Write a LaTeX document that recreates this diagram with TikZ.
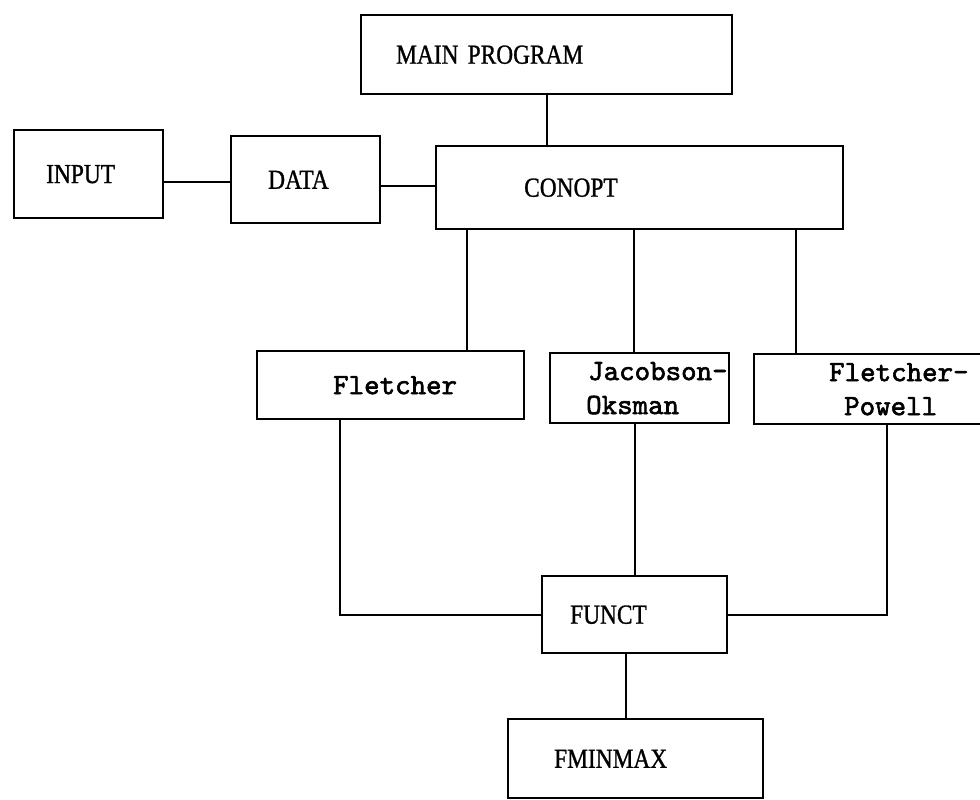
\documentclass[tikz,border=0pt]{standalone}
\usepackage{fontspec}
\newfontfamily\capsfont[FakeStretch=0.85,FakeBold=1]{Liberation Serif}
\newfontfamily\typefont[FakeBold=2]{lmmono10-regular.otf}
\begin{document}
\begin{tikzpicture}[x=1pt,y=-1pt,line width=2.4pt,
    box/.style={draw,anchor=north west,inner xsep=0pt,inner ysep=0pt,align=left},
    capbox/.style={box,font=\capsfont\fontsize{27.5}{32}\selectfont},
    monobox/.style={box,font=\typefont\fontsize{29.5}{34}\selectfont}]
    \useasboundingbox (0,0) rectangle (980,800);
    % boxes
    \node[capbox,text width=371pt,minimum height=79pt](main) at (360,14) {\hspace*{35pt}MAIN PROGRAM};
    \node[capbox,text width=149pt,minimum height=88pt](input) at (13,129) {\hspace*{32pt}INPUT};
    \node[capbox,text width=149pt,minimum height=87pt](data) at (230,135) {\hspace*{37pt}DATA};
    \node[capbox,text width=407pt,minimum height=83pt](conopt) at (435,145) {\hspace*{88pt}CONOPT};
    \node[monobox,text width=267pt,minimum height=68pt](fletcher) at (256,350) {\hspace*{76pt}Fletcher};
    \node[monobox,text width=179pt,minimum height=70pt](jacobson) at (549,352) {\hspace*{38pt}Jacobson-\\\hspace*{36pt}Oksman};
    \node[monobox,text width=250pt,minimum height=70pt](powell) at (753,353) {\hspace*{75pt}Fletcher-\\\hspace*{90pt}Powell};
    \node[capbox,text width=185pt,minimum height=77pt](funct) at (541,575) {\hspace*{28pt}FUNCT};
    \node[capbox,text width=255pt,minimum height=79pt](fminmax) at (507,718) {\hspace*{46pt}FMINMAX};
    % connectors
    \draw (main.south) -- (main.south |- conopt.north);
    \draw (input.east |- 0,182) -- (data.west |- 0,182);
    \draw (data.east |- 0,186) -- (conopt.west |- 0,186);
    \foreach \x/\n in {467/fletcher,634/jacobson,796/powell}
    {
        \draw (conopt.south -| \x,0) -- (\n.north -| \x,0);
    }
    \draw (fletcher.south -| 340,0) |- (funct.west);
    \draw (funct.north) -- (funct.north |- jacobson.south);
    \draw (powell.south -| 887,0) |- (funct.east);
    \draw (funct.south -| 626,0) -- (fminmax.north -| 626,0);
\end{tikzpicture}
\end{document}
